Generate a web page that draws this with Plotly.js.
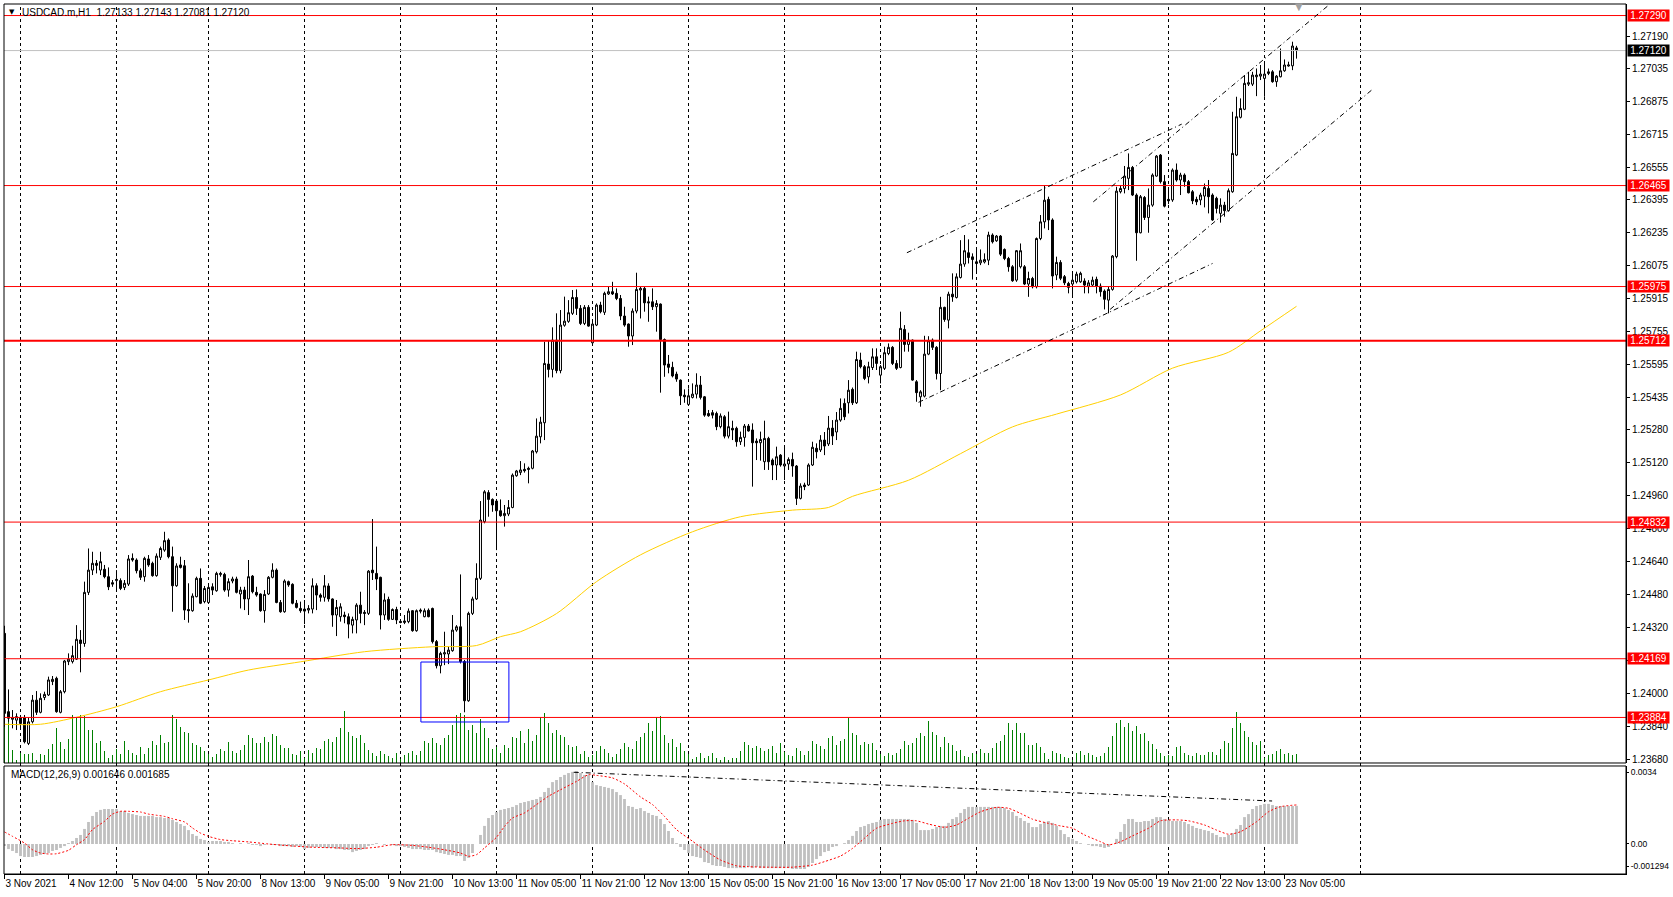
<!DOCTYPE html>
<html><head><meta charset="utf-8">
<script src="https://cdn.plot.ly/plotly-3.0.1.min.js"></script>
<style>html,body{margin:0;padding:0;background:#fff}#chart{width:1673px;height:897px}</style>
</head><body><div id="chart"></div>
<script>
const openP = [
1.24292,1.23912,1.23875,1.23871,1.23884,1.23884,1.23758,1.23863,1.23968,1.23909,1.23981,1.23993,
1.24058,1.24074,1.23909,1.24009,1.24155,1.24155,1.24167,1.24260,1.24243,1.24491,1.24599,1.24632,
1.24599,1.24603,1.24567,1.24538,1.24548,1.24548,1.24515,1.24531,1.24656,1.24648,1.24596,1.24567,
1.24653,1.24632,1.24572,1.24661,1.24696,1.24745,1.24664,1.24523,1.24624,1.24620,1.24408,1.24402,
1.24470,1.24559,1.24446,1.24442,1.24518,1.24499,1.24577,1.24578,1.24502,1.24546,1.24556,1.24483,
1.24502,1.24459,1.24570,1.24491,1.24483,1.24402,1.24483,1.24564,1.24599,1.24442,1.24397,1.24543,
1.24530,1.24438,1.24413,1.24410,1.24405,1.24410,1.24523,1.24478,1.24467,1.24522,1.24459,1.24381,
1.24373,1.24381,1.24373,1.24332,1.24357,1.24429,1.24394,1.24389,1.24599,1.24583,1.24564,1.24381,
1.24457,1.24360,1.24408,1.24350,1.24345,1.24349,1.24402,1.24305,1.24405,1.24373,1.24404,1.24413,
1.24252,1.24135,1.24192,1.24192,1.24208,1.24308,1.24324,1.24155,1.23965,1.24389,1.24459,1.24559,
1.24834,1.24975,1.24942,1.24934,1.24887,1.24863,1.24871,1.24903,1.25057,1.25073,1.25088,1.25093,
1.25093,1.25173,1.25246,1.25314,1.25599,1.25573,1.25715,1.25567,1.25787,1.25806,1.25845,1.25922,
1.25869,1.25796,1.25874,1.25702,1.25788,1.25885,1.25850,1.25939,1.25950,1.25942,1.25917,1.25832,
1.25793,1.25735,1.25856,1.25958,1.25966,1.25901,1.25901,1.25877,1.25890,1.25718,1.25599,1.25583,
1.25550,1.25521,1.25448,1.25403,1.25437,1.25453,1.25497,1.25440,1.25359,1.25363,1.25359,1.25295,
1.25343,1.25249,1.25287,1.25287,1.25222,1.25243,1.25298,1.25279,1.25225,1.25217,1.25125,1.25238,
1.25133,1.25109,1.25157,1.25104,1.25114,1.25136,1.25104,1.24947,1.25012,1.25012,1.25109,1.25190,
1.25182,1.25230,1.25211,1.25288,1.25269,1.25327,1.25408,1.25411,1.25476,1.25411,1.25618,1.25586,
1.25537,1.25582,1.25634,1.25545,1.25578,1.25650,1.25680,1.25602,1.25582,1.25767,1.25694,1.25715,
1.25513,1.25440,1.25443,1.25647,1.25715,1.25680,1.25553,1.25874,1.25812,1.25938,1.25922,1.26019,
1.26084,1.26139,1.26119,1.26095,1.26090,1.26094,1.26103,1.26225,1.26197,1.26220,1.26155,1.26111,
1.26071,1.26006,1.26071,1.26071,1.25987,1.26014,1.25974,1.26208,1.26289,1.26398,1.26298,1.26031,
1.26092,1.26023,1.25990,1.25987,1.25998,1.25998,1.26002,1.25977,1.25982,1.26010,1.25977,1.25953,
1.25909,1.25961,1.26120,1.26435,1.26451,1.26500,1.26553,1.26419,1.26236,1.26407,1.26310,1.26370,
1.26511,1.26613,1.26484,1.26398,1.26395,1.26540,1.26492,1.26516,1.26484,1.26435,1.26398,1.26395,
1.26414,1.26451,1.26419,1.26403,1.26330,1.26370,1.26343,1.26435,1.26613,1.26796,1.26835,1.26957,
1.26957,1.26993,1.26996,1.26985,1.27009,1.27017,1.26969,1.26993,1.27022,1.27045,1.27046,1.27133];
const highP = [
1.24329,1.24020,1.23920,1.23904,1.23896,1.23896,1.23884,1.23993,1.24012,1.24001,1.24009,1.24082,
1.24085,1.24082,1.24017,1.24163,1.24195,1.24232,1.24332,1.24308,1.24543,1.24704,1.24688,1.24648,
1.24688,1.24624,1.24612,1.24551,1.24599,1.24559,1.24551,1.24672,1.24680,1.24656,1.24607,1.24664,
1.24672,1.24640,1.24680,1.24713,1.24785,1.24753,1.24713,1.24632,1.24664,1.24648,1.24535,1.24486,
1.24567,1.24607,1.24522,1.24527,1.24535,1.24591,1.24591,1.24586,1.24559,1.24567,1.24567,1.24518,
1.24518,1.24648,1.24575,1.24518,1.24486,1.24502,1.24570,1.24632,1.24607,1.24454,1.24554,1.24548,
1.24535,1.24454,1.24446,1.24454,1.24429,1.24559,1.24535,1.24486,1.24575,1.24535,1.24462,1.24454,
1.24438,1.24397,1.24389,1.24373,1.24438,1.24494,1.24405,1.24599,1.24847,1.24713,1.24567,1.24486,
1.24470,1.24413,1.24421,1.24357,1.24381,1.24413,1.24405,1.24408,1.24413,1.24413,1.24413,1.24417,
1.24260,1.24203,1.24300,1.24227,1.24381,1.24332,1.24578,1.24163,1.24397,1.24470,1.24632,1.24934,
1.24987,1.24987,1.24947,1.24939,1.24942,1.24915,1.24939,1.25068,1.25085,1.25128,1.25117,1.25101,
1.25182,1.25335,1.25343,1.25707,1.25715,1.25777,1.25845,1.25861,1.25926,1.25909,1.25958,1.25961,
1.25885,1.25885,1.25885,1.25804,1.25893,1.25901,1.25950,1.25974,1.25998,1.25966,1.25934,1.25877,
1.25796,1.25869,1.26042,1.25974,1.25974,1.25926,1.25966,1.25909,1.25893,1.25723,1.25643,1.25610,
1.25562,1.25524,1.25476,1.25481,1.25505,1.25554,1.25541,1.25444,1.25376,1.25376,1.25368,1.25359,
1.25351,1.25368,1.25324,1.25295,1.25271,1.25308,1.25308,1.25311,1.25238,1.25271,1.25324,1.25246,
1.25141,1.25198,1.25162,1.25198,1.25146,1.25169,1.25109,1.25020,1.25023,1.25117,1.25222,1.25214,
1.25254,1.25269,1.25347,1.25327,1.25366,1.25432,1.25432,1.25521,1.25485,1.25659,1.25654,1.25594,
1.25610,1.25675,1.25675,1.25594,1.25683,1.25699,1.25686,1.25618,1.25853,1.25788,1.25751,1.25718,
1.25521,1.25472,1.25736,1.25734,1.25723,1.25686,1.25925,1.25877,1.25950,1.26039,1.26039,1.26200,
1.26225,1.26204,1.26136,1.26152,1.26155,1.26136,1.26241,1.26233,1.26225,1.26225,1.26160,1.26119,
1.26079,1.26152,1.26184,1.26079,1.26047,1.26022,1.26213,1.26322,1.26467,1.26411,1.26306,1.26120,
1.26103,1.26031,1.25998,1.26039,1.26047,1.26047,1.26015,1.26006,1.26023,1.26023,1.25990,1.25961,
1.25974,1.26128,1.26459,1.26467,1.26560,1.26621,1.26560,1.26427,1.26419,1.26414,1.26451,1.26524,
1.26613,1.26618,1.26516,1.26451,1.26548,1.26572,1.26527,1.26524,1.26492,1.26443,1.26411,1.26430,
1.26475,1.26492,1.26427,1.26411,1.26403,1.26386,1.26451,1.26823,1.26896,1.26888,1.27001,1.27017,
1.27017,1.27033,1.27050,1.27058,1.27033,1.27025,1.27001,1.27130,1.27077,1.27066,1.27163,1.27143];
const lowP = [
1.23839,1.23863,1.23831,1.23823,1.23831,1.23758,1.23750,1.23855,1.23896,1.23904,1.23968,1.23988,
1.24041,1.23907,1.23904,1.24001,1.24138,1.24146,1.24163,1.24103,1.24227,1.24478,1.24575,1.24583,
1.24575,1.24559,1.24502,1.24518,1.24502,1.24502,1.24502,1.24522,1.24640,1.24583,1.24551,1.24543,
1.24615,1.24567,1.24567,1.24648,1.24688,1.24656,1.24397,1.24518,1.24607,1.24357,1.24344,1.24397,
1.24467,1.24434,1.24438,1.24438,1.24478,1.24494,1.24567,1.24494,1.24470,1.24535,1.24486,1.24413,
1.24405,1.24381,1.24486,1.24470,1.24397,1.24344,1.24478,1.24559,1.24438,1.24392,1.24392,1.24518,
1.24433,1.24413,1.24392,1.24337,1.24389,1.24389,1.24405,1.24446,1.24446,1.24446,1.24324,1.24279,
1.24349,1.24341,1.24268,1.24292,1.24292,1.24341,1.24332,1.24381,1.24551,1.24502,1.24311,1.24357,
1.24353,1.24357,1.24337,1.24341,1.24337,1.24341,1.24300,1.24300,1.24389,1.24370,1.24370,1.24243,
1.24122,1.24098,1.24138,1.24143,1.24203,1.24300,1.24146,1.23909,1.23960,1.24381,1.24454,1.24551,
1.24826,1.24858,1.24882,1.24696,1.24858,1.24810,1.24861,1.24899,1.25052,1.25060,1.25072,1.25020,
1.25088,1.25165,1.25214,1.25230,1.25534,1.25534,1.25554,1.25554,1.25780,1.25799,1.25837,1.25837,
1.25788,1.25788,1.25780,1.25699,1.25783,1.25845,1.25837,1.25934,1.25934,1.25909,1.25812,1.25780,
1.25683,1.25691,1.25845,1.25820,1.25853,1.25804,1.25861,1.25756,1.25460,1.25537,1.25554,1.25534,
1.25513,1.25400,1.25411,1.25400,1.25432,1.25432,1.25427,1.25343,1.25343,1.25335,1.25278,1.25287,
1.25238,1.25238,1.25230,1.25198,1.25206,1.25198,1.25271,1.25004,1.25133,1.25130,1.25085,1.25085,
1.25036,1.25036,1.25101,1.25036,1.25085,1.25052,1.24915,1.24942,1.24987,1.25007,1.25104,1.25141,
1.25172,1.25157,1.25201,1.25206,1.25230,1.25319,1.25327,1.25359,1.25400,1.25405,1.25578,1.25521,
1.25505,1.25570,1.25570,1.25505,1.25570,1.25642,1.25594,1.25570,1.25578,1.25659,1.25659,1.25518,
1.25416,1.25392,1.25437,1.25642,1.25667,1.25524,1.25472,1.25804,1.25772,1.25901,1.25917,1.26014,
1.26071,1.26087,1.26009,1.26039,1.26079,1.26087,1.26079,1.26184,1.26192,1.26123,1.26103,1.26047,
1.25998,1.25998,1.26063,1.25982,1.25925,1.25966,1.25966,1.26200,1.26257,1.26249,1.25966,1.26006,
1.26006,1.25982,1.25942,1.25934,1.25990,1.25993,1.25942,1.25942,1.25974,1.25942,1.25926,1.25864,
1.25845,1.25955,1.26112,1.26427,1.26427,1.26443,1.26414,1.26100,1.26233,1.26298,1.26236,1.26362,
1.26508,1.26475,1.26359,1.26375,1.26386,1.26484,1.26419,1.26459,1.26427,1.26375,1.26370,1.26370,
1.26359,1.26330,1.26294,1.26330,1.26285,1.26314,1.26338,1.26430,1.26608,1.26791,1.26831,1.26948,
1.26948,1.26899,1.26977,1.26896,1.27001,1.26964,1.26944,1.26990,1.27017,1.27042,1.27025,1.27081];
const closeP = [
1.23904,1.23880,1.23884,1.23888,1.23855,1.23766,1.23863,1.23968,1.23909,1.23977,1.23996,1.24066,
1.24069,1.23912,1.24009,1.24158,1.24167,1.24184,1.24263,1.24243,1.24491,1.24599,1.24632,1.24622,
1.24640,1.24567,1.24518,1.24531,1.24554,1.24510,1.24535,1.24653,1.24648,1.24596,1.24564,1.24656,
1.24624,1.24572,1.24667,1.24704,1.24742,1.24664,1.24523,1.24619,1.24612,1.24405,1.24402,1.24473,
1.24559,1.24438,1.24510,1.24515,1.24502,1.24583,1.24583,1.24502,1.24543,1.24556,1.24491,1.24502,
1.24459,1.24567,1.24494,1.24478,1.24402,1.24481,1.24564,1.24599,1.24442,1.24397,1.24546,1.24527,
1.24438,1.24418,1.24402,1.24400,1.24413,1.24523,1.24478,1.24467,1.24523,1.24459,1.24381,1.24418,
1.24421,1.24373,1.24337,1.24360,1.24429,1.24389,1.24389,1.24594,1.24586,1.24556,1.24381,1.24454,
1.24360,1.24408,1.24357,1.24345,1.24352,1.24400,1.24305,1.24402,1.24400,1.24402,1.24373,1.24252,
1.24135,1.24195,1.24198,1.24211,1.24308,1.24324,1.24155,1.23965,1.24389,1.24459,1.24559,1.24842,
1.24979,1.24942,1.24915,1.24887,1.24863,1.24874,1.24903,1.25060,1.25080,1.25085,1.25081,1.25088,
1.25177,1.25249,1.25317,1.25602,1.25573,1.25715,1.25567,1.25788,1.25807,1.25848,1.25922,1.25869,
1.25796,1.25874,1.25783,1.25793,1.25885,1.25853,1.25942,1.25950,1.25939,1.25917,1.25832,1.25788,
1.25735,1.25856,1.25961,1.25966,1.25896,1.25896,1.25877,1.25893,1.25718,1.25594,1.25583,1.25541,
1.25526,1.25445,1.25440,1.25445,1.25453,1.25497,1.25437,1.25351,1.25348,1.25351,1.25295,1.25347,
1.25249,1.25295,1.25279,1.25222,1.25243,1.25298,1.25274,1.25217,1.25217,1.25233,1.25238,1.25125,
1.25109,1.25149,1.25109,1.25114,1.25136,1.25104,1.24947,1.25007,1.25004,1.25109,1.25195,1.25173,
1.25230,1.25201,1.25288,1.25250,1.25327,1.25384,1.25343,1.25472,1.25411,1.25621,1.25586,1.25529,
1.25586,1.25634,1.25602,1.25586,1.25654,1.25680,1.25602,1.25578,1.25772,1.25694,1.25715,1.25521,
1.25460,1.25464,1.25647,1.25712,1.25680,1.25553,1.25874,1.25815,1.25938,1.25925,1.26022,1.26084,
1.26149,1.26116,1.26106,1.26087,1.26103,1.26106,1.26225,1.26192,1.26220,1.26132,1.26111,1.26071,
1.26003,1.26149,1.26149,1.25987,1.26014,1.25974,1.26208,1.26289,1.26394,1.26298,1.26026,1.26092,
1.26015,1.25993,1.25971,1.26006,1.26035,1.26039,1.25982,1.25993,1.26006,1.25977,1.25950,1.25913,
1.25961,1.26123,1.26438,1.26451,1.26511,1.26553,1.26419,1.26236,1.26411,1.26310,1.26370,1.26516,
1.26608,1.26484,1.26365,1.26391,1.26540,1.26492,1.26516,1.26484,1.26430,1.26391,1.26386,1.26419,
1.26456,1.26411,1.26298,1.26354,1.26370,1.26343,1.26440,1.26621,1.26799,1.26839,1.26961,1.26964,
1.27001,1.27001,1.27006,1.27006,1.27017,1.26969,1.26996,1.27022,1.27050,1.27050,1.27142,1.27120];
const tickVolume = [
3800,2200,520,120,400,360,360,400,120,360,320,560,
760,1400,840,560,960,1920,1800,1920,1880,1320,1320,800,
880,480,200,320,560,360,880,520,400,320,640,360,
600,880,720,1120,800,840,1920,1760,1440,1240,1200,800,
720,640,480,360,240,360,560,480,840,480,400,520,
720,1120,1000,800,800,1040,840,1160,1080,720,600,600,
360,320,480,200,520,400,600,560,880,960,840,1040,
1400,2080,1240,1080,1000,1120,800,520,400,280,480,360,
280,200,400,160,320,400,480,320,480,880,800,1000,
800,720,1000,1120,1520,1920,2000,1920,1320,1520,1200,1760,
1400,1000,560,640,400,720,600,1040,1000,1280,800,1360,
880,1120,1840,2000,1600,1200,1320,1120,1040,720,640,680,
360,480,240,320,480,680,560,400,240,360,560,800,
640,560,880,1040,1200,1600,1280,1840,1880,1120,800,960,
640,800,480,360,160,240,400,200,280,400,200,120,
240,120,200,200,480,840,720,600,680,600,480,560,
680,400,800,440,320,280,600,480,320,480,880,760,
680,560,1000,1080,720,880,960,1800,1200,1120,720,840,
760,800,520,360,280,400,320,400,560,880,720,800,
1000,1200,1080,1680,1240,1120,640,1040,800,720,480,520,
280,240,400,360,560,400,400,600,800,880,1120,1600,
1320,1600,1200,1200,720,720,800,640,400,160,480,400,
360,240,200,120,400,480,320,400,320,240,280,400,
640,1080,1600,1720,1440,1600,1280,1480,1160,1200,880,760,
560,400,280,320,280,640,680,400,320,280,400,320,
320,440,440,320,560,880,800,1400,2040,1600,1280,1040,
840,720,880,200,320,360,480,560,360,400,320,360];
const macdMain = [
-0.00009,-0.00022,-0.00030,-0.00039,-0.00052,-0.00056,-0.00056,-0.00056,-0.00052,-0.00047,-0.00043,-0.00039,-0.00030,-0.00026,-0.00017,-0.00009,
0.00004,0.00013,0.00026,0.00039,0.00065,0.00095,0.00121,0.00138,0.00147,0.00151,0.00151,0.00151,0.00151,0.00142,0.00142,0.00134,
0.00129,0.00125,0.00121,0.00121,0.00121,0.00121,0.00116,0.00116,0.00112,0.00112,0.00104,0.00095,0.00086,0.00078,0.00060,0.00043,
0.00035,0.00022,0.00017,0.00009,0.00013,0.00013,0.00013,0.00009,0.00009,0.00004,0,0.00004,0,0.00004,-0.00004,-0.00004,
-0.00009,-0.00004,0,-0.00004,-0.00004,-0.00009,-0.00009,-0.00009,-0.00013,-0.00009,-0.00013,-0.00022,-0.00017,-0.00013,-0.00013,-0.00013,
-0.00017,-0.00017,-0.00017,-0.00022,-0.00022,-0.00026,-0.00026,-0.00035,-0.00030,-0.00026,-0.00022,-0.00009,-0.00004,0.00004,0,-0.00004,
0,-0.00004,-0.00009,-0.00009,-0.00013,-0.00017,-0.00022,-0.00022,-0.00022,-0.00026,-0.00026,-0.00026,-0.00035,-0.00039,-0.00043,-0.00047,
-0.00047,-0.00052,-0.00052,-0.00073,-0.00060,-0.00039,0,0.00039,0.00078,0.00112,0.00125,0.00138,0.00147,0.00151,0.00155,0.00160,
0.00168,0.00177,0.00181,0.00185,0.00190,0.00194,0.00203,0.00224,0.00242,0.00267,0.00276,0.00289,0.00298,0.00306,0.00311,0.00315,
0.00306,0.00298,0.00298,0.00267,0.00254,0.00250,0.00246,0.00242,0.00237,0.00224,0.00211,0.00194,0.00164,0.00160,0.00151,
0.00155,0.00142,0.00134,0.00125,0.00121,0.00108,0.00086,0.00056,0.00026,0.00004,-0.00013,-0.00026,-0.00039,-0.00052,-0.00056,-0.00060,
-0.00078,-0.00082,-0.00091,-0.00095,-0.00095,-0.00099,-0.00104,-0.00104,-0.00104,-0.00104,-0.00104,-0.00099,-0.00104,-0.00099,-0.00104,-0.00104,
-0.00104,-0.00104,-0.00104,-0.00104,-0.00104,-0.00104,-0.00108,-0.00108,-0.00108,-0.00108,-0.00099,-0.00082,-0.00065,-0.00052,-0.00035,-0.00030,
-0.00013,-0.00009,0,0.00004,0.00017,0.00035,0.00056,0.00073,0.00078,0.00086,0.00091,0.00095,0.00104,0.00108,0.00108,0.00108,
0.00108,0.00108,0.00108,0.00108,0.00104,0.00091,0.00060,0.00060,0.00060,0.00065,0.00073,0.00078,0.00078,0.00091,0.00108,0.00116,
0.00134,0.00151,0.00160,0.00160,0.00160,0.00160,0.00160,0.00160,0.00160,0.00160,0.00160,0.00155,0.00147,0.00138,0.00121,0.00112,
0.00099,0.00091,0.00073,0.00073,0.00086,0.00095,0.00099,0.00091,0.00078,0.00060,0.00043,0.00030,0.00022,0.00013,0.00004,0,
-0.00004,-0.00009,-0.00009,-0.00013,-0.00017,-0.00013,0,0.00022,0.00052,0.00086,0.00108,0.00108,0.00095,0.00095,0.00099,0.00099,
0.00108,0.00116,0.00116,0.00108,0.00104,0.00099,0.00099,0.00099,0.00095,0.00086,0.00078,0.00069,0.00065,0.00060,0.00056,0.00047,
0.00039,0.00030,0.00030,0.00039,0.00047,0.00065,0.00082,0.00116,0.00129,0.00151,0.00164,0.00168,0.00173,0.00173,0.00168,0.00164,
0.00164,0.00164,0.00164,0.00164,0.001646];
const signalIdx = [0,2,5,7,9,11,13,16,18,20,22,25,27,29,31,34,36,38,40,42,45,47,49,51,54,57,61,66,70,77,84,88,93,97,102,106,110,114,116,118,120,123,125,127,130,133,136,139,143,146,148,152,155,159,162,165,168,172,175,179,183,186,191,197,202,205,209,212,215,218,222,225,228,231,235,238,241,244,248,251,254,257,261,264,267,270,274,276,279,282,286,289,293,296,300,303,306,309,313,316,319,323];
const signalVal = [0.00052,0.00033,0.00004,-0.00025,-0.00039,-0.00043,-0.00042,-0.00027,-0.00003,0.00019,0.00062,0.00098,0.00129,0.00141,0.00141,0.00138,0.00129,0.00124,0.00119,0.00109,0.00095,0.00069,0.00047,0.00033,0.00019,0.00014,0.00009,0,-0.00006,-0.00014,-0.00017,-0.00020,-0.00014,-0.00003,-0.00006,-0.00014,-0.00025,-0.00039,-0.00053,-0.00046,-0.00017,0.00029,0.00076,0.00112,0.00134,0.00170,0.00206,0.00234,0.00270,0.00299,0.00296,0.00285,0.00259,0.00203,0.00170,0.00119,0.00062,0.00012,-0.00026,-0.00069,-0.00094,-0.00098,-0.00100,-0.00100,-0.00091,-0.00076,-0.00052,-0.00019,0.00025,0.00068,0.00089,0.00100,0.00100,0.00086,0.00072,0.00082,0.00111,0.00139,0.00158,0.00154,0.00132,0.00107,0.00089,0.00078,0.00068,0.00039,0.00010,-0.00004,0.00010,0.00035,0.00068,0.00100,0.00104,0.00100,0.00082,0.00060,0.00042,0.00053,0.00096,0.00139,0.00161,0.001685];
const maIdx = [0,9,18,28,39,51,61,74,90,107,118,124,129,138,148,159,172,184,197,206,212,226,239,252,263,279,292,306,314,323];
const maVal = [1.23851,1.23851,1.23885,1.23936,1.24009,1.24066,1.24114,1.24154,1.24203,1.24227,1.24233,1.24276,1.24300,1.24388,1.24543,1.24673,1.24785,1.24858,1.24890,1.24903,1.24957,1.25035,1.25164,1.25294,1.25356,1.25449,1.25579,1.25656,1.25760,1.25879];
const levelPrices = [1.27290,1.26465,1.25975,1.25712,1.24832,1.24169,1.23884];
const bidPrice = 1.27120;
const timeTickIdx = [0,16,32,48,64,80,96,112,128,144,160,176,192,208,224,240,256,272,288,304,320];
const timeTickText = ['3 Nov 2021','4 Nov 12:00','5 Nov 04:00','5 Nov 20:00','8 Nov 13:00','9 Nov 05:00','9 Nov 21:00','10 Nov 13:00','11 Nov 05:00','11 Nov 21:00','12 Nov 13:00','15 Nov 05:00','15 Nov 21:00','16 Nov 13:00','17 Nov 05:00','17 Nov 21:00','18 Nov 13:00','19 Nov 05:00','19 Nov 21:00','22 Nov 13:00','23 Nov 05:00'];
const daySeparatorIdx = [4,28,51,75,99,123,147,171,195,219,243,267,291,315,339];
const priceTickVals = [1.27190,1.27035,1.26875,1.26715,1.26555,1.26395,1.26235,1.26075,1.25915,1.25755,1.25595,1.25435,1.25280,1.25120,1.24960,1.24800,1.24640,1.24480,1.24320,1.24160,1.24000,1.23840,1.23680];
const macdTickVals = [0.0031,0,-0.00095];
const macdTickText = ['0.0034','0.00','-0.001294'];
const trendStartIdx = [225.6,228.5,272.2,276.4];
const trendStartPrice = [1.26139,1.25413,1.26386,1.25864];
const trendEndIdx = [294.3,302.0,330.9,342.2];
const trendEndPrice = [1.26763,1.26087,1.27338,1.26935];
const macdTrendIdx = [142.3,316.9];
const macdTrendVal = [0.003093,0.001855];
const boxIdx = [104.1,126.1];
const boxPrice = [1.23862,1.24153];
const headerText = 'USDCAD.m,H1\u00a0\u00a01.27133 1.27143 1.27081 1.27120';
const macdText = 'MACD(12,26,9) 0.001646 0.001685';

const idx = closeP.map((_, i) => i);
const FONT = 'Liberation Sans, Arial, sans-serif';

const traces = [
  {type:'bar', x:idx, y:tickVolume, xaxis:'x', yaxis:'y', width:0.25,
   marker:{color:'#008000', line:{width:0}}, hoverinfo:'skip'},
  {type:'candlestick', x:idx, open:openP, high:highP, low:lowP, close:closeP,
   xaxis:'x', yaxis:'y2', whiskerwidth:0,
   increasing:{line:{color:'#000', width:1}, fillcolor:'#ffffff'},
   decreasing:{line:{color:'#000', width:1}, fillcolor:'#000000'}, hoverinfo:'skip'},
  {type:'scatter', mode:'lines', x:maIdx, y:maVal, xaxis:'x', yaxis:'y2',
   line:{color:'#ffd000', width:1, shape:'spline', smoothing:0.8}, hoverinfo:'skip'},
  {type:'bar', x:idx, y:macdMain, xaxis:'x', yaxis:'y3', width:0.7,
   marker:{color:'#c0c0c0', line:{width:0}}, hoverinfo:'skip'},
  {type:'scatter', mode:'lines', x:signalIdx, y:signalVal, xaxis:'x', yaxis:'y3',
   line:{color:'#ff0000', width:1, dash:'2px,2px', shape:'spline', smoothing:0.6}, hoverinfo:'skip'}
];

const shapes = [];
daySeparatorIdx.forEach(d => shapes.push({type:'line', xref:'x', yref:'paper', x0:d, x1:d, y0:0, y1:1,
  layer:'below', line:{color:'#000', width:1, dash:'3px,3px'}}));
shapes.push({type:'line', xref:'paper', yref:'y2', x0:0, x1:1, y0:bidPrice, y1:bidPrice, line:{color:'#c0c0c0', width:1}});
const levelWidths = [1,1,1,2,1,1,1];
levelPrices.forEach((p, k) => shapes.push({type:'line', xref:'paper', yref:'y2', x0:0, x1:1, y0:p, y1:p,
  line:{color:'#ff0000', width:levelWidths[k]}}));
trendStartIdx.forEach((x0, k) => shapes.push({type:'line', xref:'x', yref:'y2', x0:x0, y0:trendStartPrice[k],
  x1:trendEndIdx[k], y1:trendEndPrice[k], line:{color:'#000', width:1, dash:'5px,3px,1px,3px'}}));
shapes.push({type:'line', xref:'x', yref:'y3', x0:macdTrendIdx[0], y0:macdTrendVal[0], x1:macdTrendIdx[1], y1:macdTrendVal[1],
  line:{color:'#000', width:1, dash:'5px,3px,1px,3px'}});
shapes.push({type:'rect', xref:'x', yref:'y2', x0:boxIdx[0], x1:boxIdx[1], y0:boxPrice[0], y1:boxPrice[1],
  line:{color:'#0000ff', width:1}, fillcolor:'rgba(0,0,0,0)'});
shapes.push({type:'rect', xref:'paper', yref:'y domain', x0:0, x1:1, y0:0, y1:1, line:{color:'#000', width:1}});
shapes.push({type:'rect', xref:'paper', yref:'y3 domain', x0:0, x1:1, y0:0, y1:1, line:{color:'#000', width:1}});

const annotations = [];
levelPrices.forEach(p => annotations.push({xref:'paper', x:1, xanchor:'left', xshift:1, yref:'y2', y:p, yanchor:'middle',
  text:p.toFixed(5), showarrow:false, bgcolor:'#ff0000', borderpad:0, width:41,
  font:{family:FONT, size:10, color:'#ffffff'}}));
annotations.push({xref:'paper', x:1, xanchor:'left', xshift:1, yref:'y2', y:bidPrice, yanchor:'middle',
  text:bidPrice.toFixed(5), showarrow:false, bgcolor:'#000000', borderpad:0, width:41,
  font:{family:FONT, size:10, color:'#ffffff'}});
annotations.push({xref:'paper', yref:'paper', x:0.00986, y:0.98966, xanchor:'left', yanchor:'middle',
  text:headerText, showarrow:false, font:{family:FONT, size:10, color:'#000'}});
annotations.push({xref:'paper', yref:'paper', x:0.00475, y:0.99046, xanchor:'center', yanchor:'middle',
  text:'\u25BC', showarrow:false, font:{family:'DejaVu Sans', size:7, color:'#000'}});
annotations.push({xref:'paper', yref:'paper', x:0.00308, y:0.11494, xanchor:'left', yanchor:'middle',
  text:macdText, showarrow:false, font:{family:FONT, size:10, color:'#000'}});
annotations.push({xref:'paper', yref:'paper', x:0.7984, y:0.9977, xanchor:'center', yanchor:'middle',
  text:'\u25BC', showarrow:false, font:{family:'DejaVu Sans', size:10, color:'#a0a0a0'}});

const layout = {
  width:1673, height:897,
  margin:{l:4, r:47, t:4, b:23, pad:0},
  paper_bgcolor:'#ffffff', plot_bgcolor:'#ffffff',
  showlegend:false, barmode:'overlay',
  font:{family:FONT, size:10, color:'#000'},
  xaxis:{domain:[0,1], range:[-0.125,405.375], anchor:'y3', showgrid:false, zeroline:false,
    showline:true, linecolor:'#000', linewidth:1, ticks:'outside', ticklen:4, tickcolor:'#000',
    tickmode:'array', tickvals:timeTickIdx, ticktext:timeTickText, ticklabelposition:'outside right',
    tickangle:0, automargin:false,
    tickfont:{family:FONT, size:10, color:'#000'}, rangeslider:{visible:false}, fixedrange:true},
  yaxis:{domain:[0.12759,1], range:[0,30360], visible:false, fixedrange:true},
  yaxis2:{overlaying:'y', side:'right', anchor:'x', range:[1.23663,1.27346], showgrid:false, zeroline:false,
    showline:true, linecolor:'#000', linewidth:1, ticks:'outside', ticklen:3, tickcolor:'#000',
    tickmode:'array', tickvals:priceTickVals, ticktext:priceTickVals.map(v => v.toFixed(5)),
    tickfont:{family:FONT, size:10, color:'#000'}, fixedrange:true, automargin:false},
  yaxis3:{domain:[0,0.12414], side:'right', anchor:'x', range:[-0.001294,0.003364], showgrid:false, zeroline:false,
    showline:true, linecolor:'#000', linewidth:1, ticks:'outside', ticklen:2, tickcolor:'#000',
    tickmode:'array', tickvals:macdTickVals, ticktext:macdTickText,
    tickfont:{family:FONT, size:8.5, color:'#000'}, fixedrange:true, automargin:false},
  shapes:shapes, annotations:annotations
};

Plotly.newPlot('chart', traces, layout, {staticPlot:true, displayModeBar:false});
</script>
</body></html>
